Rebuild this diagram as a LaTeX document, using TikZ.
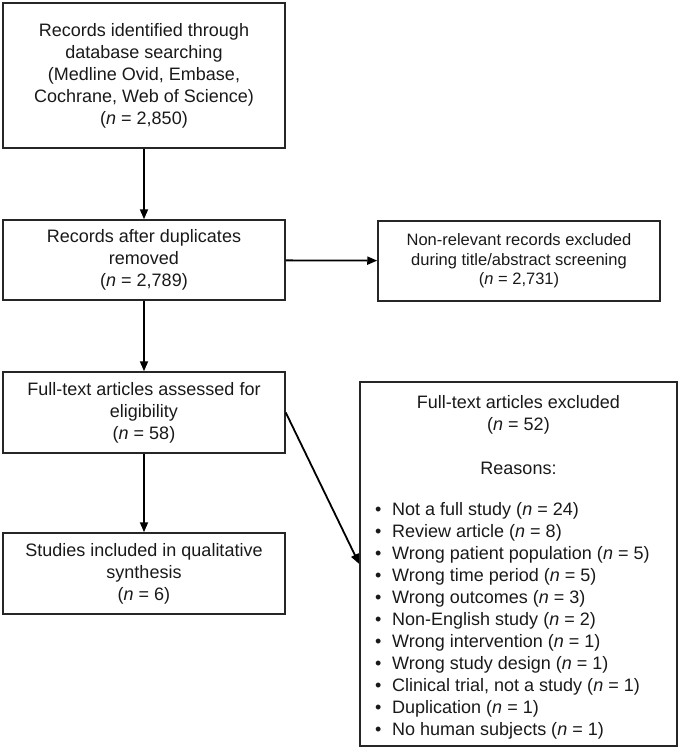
\documentclass[tikz,border=0pt]{standalone}
\usepackage{fontspec}
\setmainfont{Liberation Sans}
\usetikzlibrary{arrows.meta,positioning}
\newcommand{\ncount}[1]{(\textit{n} = #1)}
\newcommand{\reason}[1]{\makebox[17pt][l]{\textbullet}#1}

\begin{document}
\begin{tikzpicture}[x=1pt, y=-1pt,
  every node/.style={font=\fontsize{18}{22}\selectfont, text=black!90},
  box/.style={draw=black!85, line width=1.5pt, minimum width=282pt, align=center, inner sep=0pt},
  flow/.style={-{Triangle[length=10pt,width=8pt]}, line width=1.8pt}]
  \useasboundingbox (0,0) rectangle (680,750);
  % main column
  \node (recs) [box, minimum height=145pt, text depth=4pt] at (144,75.5)
    {Records identified through\\database searching\\(Medline Ovid, Embase,\\Cochrane, Web of Science)\\\ncount{2,850}};
  \node (dedup) [box, minimum height=80pt] at (144,260)
    {Records after duplicates\\removed\\\ncount{2,789}};
  \node (full) [box, minimum height=81pt] at (144,412.5)
    {Full-text articles assessed for\\eligibility\\\ncount{58}};
  \node (incl) [box, minimum height=81pt] at (144,573.5)
    {Studies included in qualitative\\synthesis\\\ncount{6}};
  % exclusions
  \node (nonrel) [box, minimum height=80pt, font=\fontsize{16.5}{19.5}\selectfont] at (519,261)
    {Non-relevant records excluded\\during title/abstract screening\\\ncount{2,731}};
  \node (excl) [box, minimum width=317pt, minimum height=364pt] at (518.5,564) {};
  \node (exclhead) [align=center, inner sep=0pt, below=14pt of excl.north]
    {Full-text articles excluded\\\ncount{52}\\[22pt]Reasons:};
  \node (reasons) [align=left, inner sep=0pt, anchor=north west] at (375,502)
    {\reason{Not a full study \ncount{24}}\\
     \reason{Review article \ncount{8}}\\
     \reason{Wrong patient population \ncount{5}}\\
     \reason{Wrong time period \ncount{5}}\\
     \reason{Wrong outcomes \ncount{3}}\\
     \reason{Non-English study \ncount{2}}\\
     \reason{Wrong intervention \ncount{1}}\\
     \reason{Wrong study design \ncount{1}}\\
     \reason{Clinical trial, not a study \ncount{1}}\\
     \reason{Duplication \ncount{1}}\\
     \reason{No human subjects \ncount{1}}};
  % connectors
  \draw[flow] (recs) -- (dedup);
  \draw[flow] (dedup) -- (full);
  \draw[flow] (full) -- (incl);
  \draw[flow] (dedup) -- (nonrel);
  \draw[flow] (full.east) -- (excl.west);
\end{tikzpicture}
\end{document}
